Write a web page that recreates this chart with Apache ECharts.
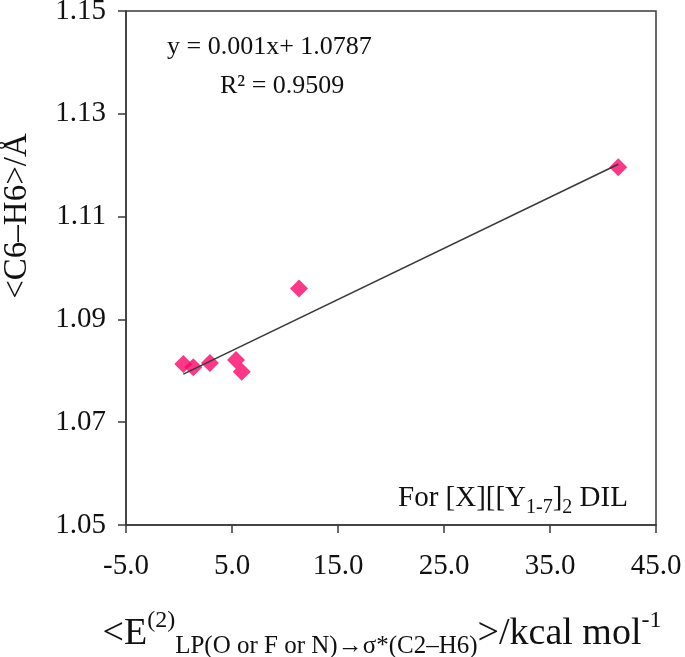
<!DOCTYPE html>
<html>
<head>
<meta charset="utf-8">
<script src="https://cdn.jsdelivr.net/npm/echarts@6/dist/echarts.min.js"></script>
<style>html,body{margin:0;padding:0;background:#fff}#c{width:685px;height:657px}</style>
</head>
<body>
<div id="c"></div>
<script>
// Data
const xValues = [0.41, 1.35, 2.92, 5.38, 5.92, 11.32, 41.44];
const yValues = [1.0813, 1.0807, 1.0815, 1.0821, 1.0798, 1.0960, 1.1196];
const xTicks = [-5.0, 5.0, 15.0, 25.0, 35.0, 45.0];
const yTicks = [1.05, 1.07, 1.09, 1.11, 1.13, 1.15];
const equationText = 'y = 0.001x+ 1.0787';
const r2Text = 'R² = 0.9509';

const Y0 = yTicks[0]; // offset so that ticks start at axis min
const FONT = '"Liberation Serif", "Times New Roman", serif';
const INK = '#3a3a3a';

// least-squares trend line over the data range
const n = xValues.length;
const mx = xValues.reduce((a, b) => a + b, 0) / n;
const my = yValues.reduce((a, b) => a + b, 0) / n;
let sxy = 0, sxx = 0;
for (let i = 0; i < n; i++) { sxy += (xValues[i] - mx) * (yValues[i] - my); sxx += (xValues[i] - mx) ** 2; }
const slope = sxy / sxx, icpt = my - slope * mx;
const xMin = Math.min(...xValues), xMax = Math.max(...xValues);
const trend = [[xMin, slope * xMin + icpt - Y0], [xMax, slope * xMax + icpt - Y0]];

const chart = echarts.init(document.getElementById('c'));
chart.setOption({
  animation: false,
  grid: { left: 126, right: 29, top: 11, bottom: 132, show: true, borderColor: INK, borderWidth: 1.5,
          containLabel: false, outerBoundsMode: 'none' },
  xAxis: {
    type: 'value', min: xTicks[0], max: xTicks[xTicks.length - 1], interval: 10,
    axisLine: { show: true, onZero: false, lineStyle: { color: INK, width: 1.5 } },
    axisTick: { show: true, inside: false, length: 8, lineStyle: { color: INK, width: 1.5 } },
    splitLine: { show: false },
    axisLabel: { color: '#111', fontFamily: FONT, fontSize: 29, margin: 27, formatter: v => v.toFixed(1) },
    name: '{m|<E}{sup|(2)}{sub|LP(O or F or N)→σ*(C2–H6)}{m|>/kcal mol}{sup|-1}',
    nameLocation: 'middle', nameGap: 84,
    nameTextStyle: {
      padding: [0, 18, 0, 0],
      rich: {
        m: { fontFamily: FONT, fontSize: 38, color: '#111', lineHeight: 50, verticalAlign: 'middle' },
        sup: { fontFamily: FONT, fontSize: 24, color: '#111', lineHeight: 50, verticalAlign: 'top' },
        sub: { fontFamily: FONT, fontSize: 25, color: '#111', lineHeight: 50, verticalAlign: 'bottom' }
      }
    }
  },
  yAxis: {
    type: 'value', min: 0, max: yTicks[yTicks.length - 1] - Y0, interval: 0.02,
    axisLine: { show: true, onZero: false, lineStyle: { color: INK, width: 1.5 } },
    axisTick: { show: true, inside: false, length: 8, lineStyle: { color: INK, width: 1.5 } },
    splitLine: { show: false },
    axisLabel: { color: '#111', fontFamily: FONT, fontSize: 29, margin: 20, formatter: v => (v + Y0).toFixed(2) },
    name: '<C6–H6>/Å', nameLocation: 'middle', nameRotate: 90, nameGap: 92,
    nameTextStyle: { fontFamily: FONT, fontSize: 33, color: '#111', padding: [0, 0, 0, 104] }
  },
  series: [
    {
      type: 'scatter', symbol: 'diamond', symbolSize: 18,
      itemStyle: { color: '#F7066A' },
      data: xValues.map((x, i) => [x, yValues[i] - Y0]), z: 2
    },
    {
      type: 'line', data: trend, symbol: 'none', z: 3,
      lineStyle: { color: INK, width: 1.6 }
    }
  ],
  graphic: [
    { type: 'text', left: 167, top: 34, style: { text: equationText, font: '26px ' + FONT, fill: '#111' } },
    { type: 'text', left: 220, top: 73, style: { text: r2Text, font: '26px ' + FONT, fill: '#111' } },
    { type: 'text', left: 398, top: 484, style: {
        text: '{m|For [X][[Y}{s|1-7}{m|]}{s|2}{m| DIL}',
        rich: {
          m: { fontFamily: FONT, fontSize: 29, fill: '#111', lineHeight: 38, verticalAlign: 'middle' },
          s: { fontFamily: FONT, fontSize: 20, fill: '#111', lineHeight: 38, verticalAlign: 'bottom' }
        } } }
  ]
});
</script>
</body>
</html>
